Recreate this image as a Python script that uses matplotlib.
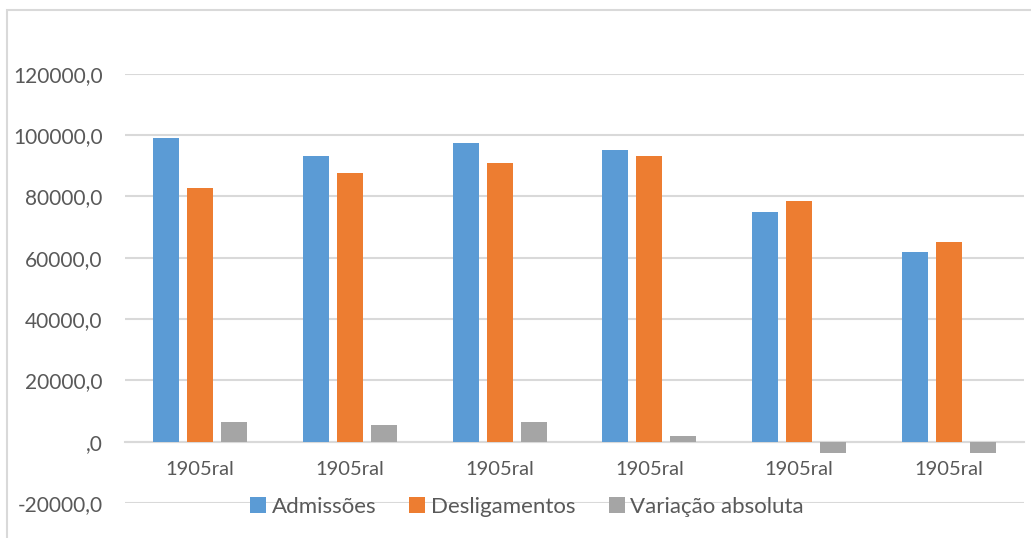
import matplotlib
matplotlib.use("Agg")
import matplotlib.pyplot as plt
from matplotlib.patches import Rectangle
import numpy as np

categories = ["1905ral", "1905ral", "1905ral", "1905ral", "1905ral", "1905ral"]
admissoes = [99100, 93200, 97550, 95100, 75050, 61800]
desligamentos = [82800, 87650, 90950, 93200, 78550, 65250]
variacao = [6350, 5450, 6550, 1750, -3550, -3550]
series_names = ["Admissões", "Desligamentos", "Variação absoluta"]
yticks = [-20000, 0, 20000, 40000, 60000, 80000, 100000, 120000]
ytick_labels = ["-20000,0", ",0", "20000,0", "40000,0", "60000,0", "80000,0", "100000,0", "120000,0"]
colors = ["#5B9BD5", "#ED7D31", "#A5A5A5"]

plt.rcParams['font.family'] = ['Lato', 'DejaVu Sans']

W, H = 1031, 538
fig = plt.figure(figsize=(W / 100, H / 100), dpi=100)
ax = fig.add_axes([125 / W, (H - 503) / H, (1024 - 125) / W, (503 - 73.7) / H])

x = np.arange(len(categories))
bw = 26 / 150
off = 34 / 150
for i, (vals, name) in enumerate(zip([admissoes, desligamentos, variacao], series_names)):
    ax.bar(x + (i - 1) * off, vals, width=bw, color=colors[i], label=name, zorder=3)

ax.set_xlim(-0.5, len(categories) - 0.5)
ax.set_ylim(-20000, 120000)
ax.set_yticks(yticks)
ax.set_yticklabels(ytick_labels)
ax.yaxis.grid(True, color="#D9D9D9", linewidth=1.5, zorder=0)
ax.set_axisbelow(True)
for s in ["top", "right", "left"]:
    ax.spines[s].set_visible(False)
ax.spines["bottom"].set_position(("data", 0))
ax.spines["bottom"].set_color("#D9D9D9")
ax.spines["bottom"].set_linewidth(1.5)
ax.set_xticks(x)
ax.set_xticklabels(categories)
ax.tick_params(axis="x", length=0, pad=14, labelsize=14.5, labelcolor="#595959")
ax.tick_params(axis="y", length=0, pad=16, labelsize=15, labelcolor="#595959")

leg = fig.legend(loc="center", bbox_to_anchor=(527 / W, 1 - 507 / H), ncol=3, frameon=False,
                 handlelength=0.72, handleheight=0.72, handletextpad=0.25, columnspacing=1.5,
                 fontsize=16, labelcolor="#595959")

fig.patches.append(Rectangle((7 / W, -0.1), 1.2, 1.1 - 10 / H, transform=fig.transFigure,
                             fill=False, edgecolor="#D9D9D9", linewidth=1.5))

fig.savefig("out.png", dpi=100, facecolor="white")
